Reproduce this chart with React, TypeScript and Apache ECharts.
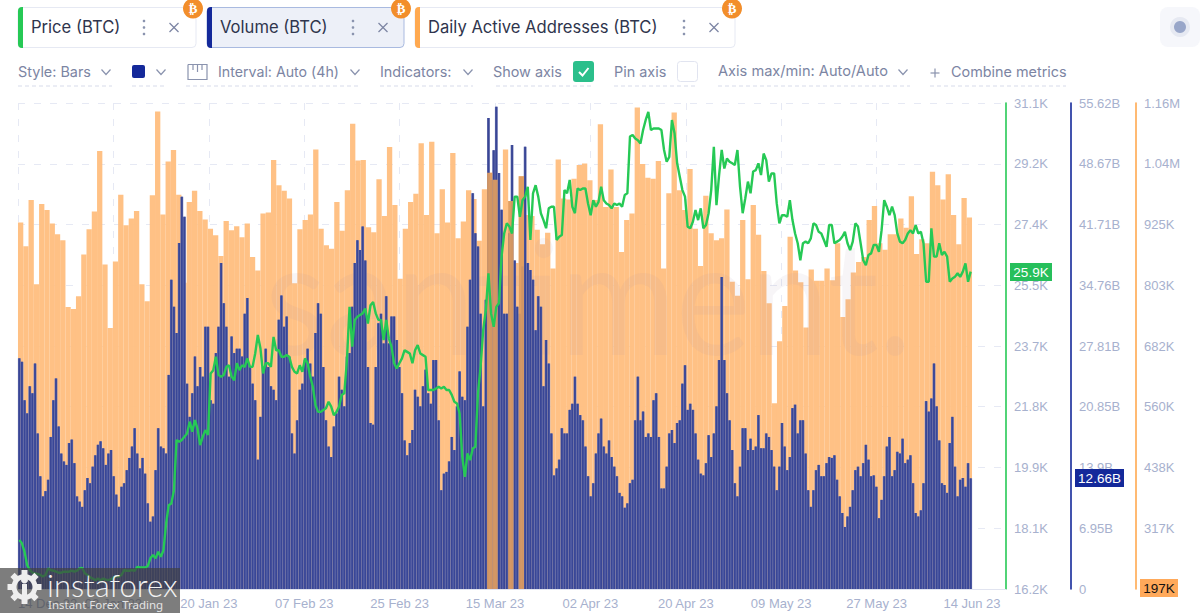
import React, { useEffect, useRef } from "react";
import * as echarts from "echarts";

const FONT = "Inter, 'Noto Sans', sans-serif";
const AXIS_FONT = "'Liberation Sans', Arial, sans-serif";

const xTickLabels = ["14 Dec 22","02 Jan 23","20 Jan 23","07 Feb 23","25 Feb 23","15 Mar 23","02 Apr 23","20 Apr 23","09 May 23","27 May 23","14 Jun 23"];
const priceTickLabels = ["16.2K","18.1K","19.9K","21.8K","23.7K","25.5K","27.4K","29.2K","31.1K"];
const volumeTickLabels = ["0","6.95B","13.9B","20.85B","27.81B","34.76B","41.71B","48.67B","55.62B"];
const addressTickLabels = ["197K","317K","438K","560K","682K","803K","925K","1.04M","1.16M"];

// Daily active addresses, thousands, one per day
const addresses = [
923,876,968,801,960,948,921,900,888,756,752,777,860,910,945,1065,840,714,846,978,918,931,946,801,767,977,1143,939,1044,1067,978,804,964,986,946,929,911,898,857,926,908,916,894,921,855,828,941,943,1047,997,986,971,803,910,928,939,1068,911,878,871,964,
907,987,1119,1046,1047,914,904,1009,936,1073,958,812,911,964,980,1080,938,1083,902,989,923,1061,892,925,987,970,887,989,1022,1008,888,1068,966,843,1015,938,936,909,880,903,832,1048,971,969,1010,1037,1040,1007,968,1118,954,1028,954,865,928,941,1151,1039,1012,1010,1045,
832,981,1141,987,948,1029,911,837,976,902,888,892,949,806,778,928,811,958,899,827,763,565,688,758,895,828,805,715,830,808,808,832,809,882,736,771,824,845,855,928,956,882,869,900,900,931,913,975,861,890,882,1024,997,969,1019,938,880,972,933,
];

// Volume, billions, one per 12 hours
const volume = [
26.4,26.0,21.6,20.1,23.2,22.4,25.8,17.8,12.9,10.6,11.2,12.5,17.4,21.6,24.1,18.6,15.5,14.6,14.2,16.7,17.1,14.4,10.6,10.0,9.4,11.3,12.7,12.1,14.0,15.3,16.5,16.9,16.1,14.2,15.5,15.9,12.9,10.8,9.4,11.7,12.1,13.6,15.0,16.3,18.4,15.5,13.8,15.0,13.2,9.8,7.7,8.3,13.6,18.4,16.3,16.1,15.5,24.5,35.4,32.3,29.3,39.6,44.9,42.6,23.5,19.7,22.4,26.6,23.2,25.4,24.3,30.0,30.0,21.6,21.2,27.0,30.0,37.3,32.7,30.0,24.3,28.9,27.0,27.5,27.5,26.6,31.5,33.3,25.4,23.5,21.6,14.8,19.7,25.4,27.5,25.4,23.2,22.8,21.6,30.8,33.6,30.0,31.2,26.6,17.8,15.5,19.3,22.8,23.5,26.2,27.5,25.8,24.3,29.3,32.7,31.5,25.4,19.3,16.3,15.1,18.6,20.1,24.3,
22.8,20.9,26.6,27.0,32.3,37.3,39.9,38.8,41.5,37.6,25.4,19.0,18.8,25.4,30.4,31.5,28.1,33.5,28.1,31.2,31.2,28.5,25.4,22.4,17.0,15.3,16.7,18.2,22.8,22.0,20.9,23.2,25.1,22.4,21.2,26.2,26.2,19.3,11.3,13.2,13.4,14.6,17.4,15.9,20.9,24.9,22.0,21.6,30.0,35.4,45.3,40.7,39.2,31.5,20.9,33.1,53.9,46.8,50.2,55.2,47.6,43.4,31.5,31.5,40.7,50.8,37.6,32.3,31.5,36.9,50.6,37.3,36.5,35.4,29.6,33.5,32.3,23.2,28.5,25.8,17.8,13.0,13.8,14.8,18.4,17.8,17.8,20.5,21.2,24.3,21.2,19.9,19.3,16.3,12.9,10.6,12.1,15.5,17.8,19.5,16.3,15.5,17.0,15.1,14.0,12.9,11.0,10.6,9.3,9.8,12.1,12.5,19.3,24.3,19.3,20.3,17.4,17.8,17.4,21.6,22.4,17.4,
11.5,11.5,14.0,17.8,18.2,16.7,19.0,19.3,23.5,25.6,20.5,21.2,20.5,17.8,14.8,13.2,13.0,14.4,17.6,15.1,17.8,20.9,26.2,35.7,26.2,22.4,19.3,15.9,12.1,10.6,14.0,18.4,18.4,15.9,17.2,15.9,16.3,19.9,16.1,16.1,17.8,17.4,15.9,14.0,11.3,14.0,19.0,16.3,13.6,15.1,20.7,21.1,17.8,19.3,19.3,15.5,11.3,9.4,11.3,13.6,14.2,12.9,12.9,14.4,15.1,15.0,15.3,12.5,10.6,8.7,7.1,8.3,9.4,11.3,13.6,14.0,12.9,14.4,16.5,14.8,12.9,13.0,11.7,8.1,10.2,12.9,16.3,17.4,12.9,13.6,15.7,15.5,17.2,14.4,14.8,15.3,12.1,8.7,8.3,9.0,12.1,21.5,20.3,21.8,25.8,20.9,17.0,12.1,11.9,11.0,16.7,19.7,14.0,10.6,12.5,12.7,11.7,14.4,12.66,
];

// Price, thousands, one per 12 hours
const price = [
17.7,17.6,17.34,16.93,16.78,16.7,16.68,16.66,16.63,16.58,16.63,16.83,16.78,16.76,16.73,16.7,16.7,16.73,16.73,16.73,16.76,16.73,16.76,16.83,16.85,16.68,16.63,16.56,16.52,16.47,16.52,16.47,16.52,16.49,16.47,16.5,16.56,16.58,16.58,16.63,16.78,16.76,16.76,16.78,16.76,16.88,16.86,16.86,16.86,16.9,17.14,17.24,17.14,17.34,17.19,17.39,18.2,18.77,18.82,19.23,20.77,20.71,20.77,20.87,20.97,21.33,21.02,21.38,21.12,20.61,20.87,21.07,20.92,22.81,22.91,23.32,22.76,22.71,22.76,23.01,23.06,22.71,22.6,23.12,22.91,23.06,23.01,23.27,23.01,23.01,23.42,23.99,23.58,22.81,23.12,23.12,23.01,23.93,23.52,23.52,23.32,23.32,23.37,23.32,23.01,22.86,22.81,23.06,22.86,23.27,23.12,22.71,22.4,21.84,21.63,21.63,21.69,21.74,21.94,21.79,21.53,
21.63,21.79,22.15,22.2,23.22,24.85,23.63,24.45,24.55,24.6,24.65,24.8,24.34,24.9,25.0,24.65,24.45,24.45,23.83,24.45,23.88,23.63,23.12,22.96,23.12,23.27,23.52,23.47,23.42,23.12,23.52,23.68,23.42,23.37,23.32,22.3,22.3,22.3,22.35,22.4,22.35,22.4,22.3,22.3,22.15,21.94,21.89,21.58,20.26,19.64,20.36,20.15,20.51,20.56,22.2,23.01,24.14,24.75,25.88,24.65,24.24,24.85,24.96,26.39,27.1,27.41,27.31,27.1,28.23,28.23,27.61,28.12,28.23,28.53,26.9,28.33,28.58,28.23,27.72,27.51,27.26,27.87,27.92,27.92,26.9,27.0,27.05,28.43,28.33,28.74,27.92,27.72,28.48,28.43,28.48,28.48,28.02,27.66,28.12,27.92,28.07,28.53,28.12,28.02,27.97,27.87,28.02,27.97,28.02,27.92,28.28,28.33,30.07,30.12,30.01,29.96,29.86,30.27,30.58,30.83,30.27,30.32,
30.32,30.32,30.27,29.66,29.3,29.45,30.58,30.17,29.25,28.84,28.43,28.23,27.31,27.26,27.46,27.82,27.51,27.87,27.26,27.36,27.72,28.43,29.76,27.97,28.89,29.66,29.09,29.4,29.3,29.25,29.2,29.66,28.53,27.72,28.18,28.69,28.33,29.0,29.04,29.25,28.89,29.55,29.35,28.69,28.94,28.94,28.02,27.41,27.66,27.66,27.61,28.12,27.51,27.1,26.8,26.28,26.8,26.85,26.8,26.95,27.41,27.36,27.15,27.1,26.9,26.69,27.36,27.36,26.8,26.85,26.9,27.0,27.15,26.8,26.59,26.85,27.41,27.31,26.8,26.28,26.13,26.44,26.49,26.75,26.75,26.54,27.2,28.12,27.92,27.66,27.92,27.66,27.1,26.85,26.8,26.9,27.1,27.2,27.1,27.36,27.1,27.15,26.8,25.62,25.62,27.26,26.39,26.39,26.8,26.44,26.54,26.39,25.62,25.72,25.77,25.88,25.77,25.93,26.18,25.62,25.93,
];

// Days on which the address bar is drawn in front of the volume bars
const frontDays = [89, 90, 93, 95];

const DAYS = addresses.length;
const DAYS_SHOWN = 187.45;
const TICK_DAYS = 18.1;
const PRICE_MIN = 16.2, PRICE_MAX = 31.1;
const VOL_MIN = 0, VOL_MAX = 55.62;
const ADDR_MIN = 197, ADDR_MAX = 1160;

const GRID = { left: 18, right: 194, top: 103, bottom: 24 };
const ORANGE = "#FFA950", GREEN = "#26C955", NAVY = "#14299A";
const LABEL = "#A7B1CE", MUTED = "#7C85A3", INK = "#2F354D";

const steps = (min: number, max: number) => [0,1,2,3,4,5,6,7,8].map((i) => min + (i * (max - min)) / 8);

const text = (x: number, y: number, t: string, fontSize: number, fill: string, extra: any = {}) => ({
  type: "text", x, y, z: 20,
  style: { text: t, fontSize, fill, fontFamily: FONT, textVerticalAlign: "middle", ...extra },
});
const poly = (pts: number[][], stroke: string, lineWidth = 1.2) => ({
  type: "polyline", z: 20, shape: { points: pts }, style: { stroke, fill: "none", lineWidth },
});
const chevron = (cx: number, cy: number) => poly([[cx - 4.5, cy - 2.5], [cx, cy + 2.5], [cx + 4.5, cy - 2.5]], "#8A93AE");
const dots = (cx: number, cy: number) => [-6.5, 0, 6.5].map((d) => ({
  type: "circle", z: 20, shape: { cx, cy: cy + d, r: 1.3 }, style: { fill: "#8A93AE" },
}));
const cross = (cx: number, cy: number) => [
  poly([[cx - 4.5, cy - 4.5], [cx + 4.5, cy + 4.5]], "#7C85A3"),
  poly([[cx - 4.5, cy + 4.5], [cx + 4.5, cy - 4.5]], "#7C85A3"),
];
const badge = (cx: number, cy: number) => [
  { type: "circle", z: 21, shape: { cx, cy, r: 10 }, style: { fill: "#F28E2B" } },
  { type: "text", z: 22, x: cx, y: cy, style: { text: "₿", fill: "#fff", fontSize: 13, fontWeight: "bold", fontFamily: "'DejaVu Sans'", textAlign: "center", textVerticalAlign: "middle" } },
];
const chip = (x0: number, x1: number, label: string, color: string, dotX: number, crossX: number, active = false) => [
  { type: "rect", z: 19, shape: { x: x0, y: 7.5, width: x1 - x0, height: 40, r: 4 },
    style: { fill: active ? "#EDF0F8" : "#fff", stroke: active ? "#A9BAE0" : "#E6E9F3", lineWidth: 1 } },
  { type: "rect", z: 19, shape: { x: x0, y: 7, width: 5, height: 41, r: [4, 0, 0, 4] }, style: { fill: color } },
  text(x0 + 13, 27, label, 16.6, INK),
  ...dots(dotX, 27.5),
  ...cross(crossX, 27.5),
  ...badge(x1 - 3, 8.5),
];
const underline = (x0: number, x1: number) => ({
  type: "line", z: 20, shape: { x1: x0, y1: 86, x2: x1, y2: 86 },
  style: { stroke: "#D7DBEA", lineWidth: 1, lineDash: [4, 3] },
});
const valueTag = (x: number, y: number, w: number, label: string, fill: string, color: string) => [
  { type: "rect", z: 24, shape: { x, y, width: w, height: 18 }, style: { fill } },
  { type: "text", z: 25, x: x + w / 2, y: y + 9.5, style: { text: label, fill: color, fontSize: 13.5, fontFamily: AXIS_FONT, textAlign: "center", textVerticalAlign: "middle" } },
];

const gearTeeth = [0, 45, 90, 135, 180, 225, 270, 315].map((deg) => ({
  type: "rect", z: 31, x: 24.5, y: 587, rotation: (deg * Math.PI) / 180,
  shape: { x: -3, y: -17, width: 6, height: 7 }, style: { fill: "#eee" },
}));

const graphics: any[] = [
  ...chip(18, 196, "Price (BTC)", GREEN, 144, 174),
  ...chip(207, 404, "Volume (BTC)", NAVY, 353, 383, true),
  ...chip(415, 735, "Daily Active Addresses (BTC)", ORANGE, 684, 714),
  { type: "rect", z: 20, shape: { x: 1160, y: 7, width: 40, height: 40, r: 8 }, style: { fill: "#F6F7FB" } },
  { type: "circle", z: 21, shape: { cx: 1180, cy: 27, r: 10 }, style: { fill: "#E6E9F2" } },
  { type: "circle", z: 22, shape: { cx: 1180, cy: 27, r: 6 }, style: { fill: "#98A6C9" } },

  text(18, 71, "Style: Bars", 14.4, MUTED),
  chevron(106, 72),
  { type: "rect", z: 20, shape: { x: 132, y: 65, width: 13, height: 13, r: 2 }, style: { fill: NAVY } },
  chevron(161, 72),
  poly([[188, 64.5], [207, 64.5], [207, 79.5], [188, 79.5], [188, 64.5]], "#8A93AE"),
  poly([[193, 65], [193, 70]], "#8A93AE"), poly([[197.5, 65], [197.5, 72]], "#8A93AE"), poly([[202, 65], [202, 70]], "#8A93AE"),
  text(218, 71, "Interval: Auto (4h)", 14.2, MUTED),
  chevron(355, 72),
  text(380, 71, "Indicators:", 14.4, MUTED),
  chevron(468, 72),
  text(493, 71, "Show axis", 14.4, MUTED),
  { type: "rect", z: 20, shape: { x: 573, y: 61, width: 21, height: 21, r: 3 }, style: { fill: "#2BBF8B" } },
  poly([[579, 72], [582.5, 75.5], [588.5, 68]], "#fff", 2),
  text(614, 71, "Pin axis", 14.4, MUTED),
  { type: "rect", z: 20, shape: { x: 677.5, y: 61.5, width: 20, height: 20, r: 3 }, style: { fill: "#fff", stroke: "#E1E4F0" } },
  text(718, 71, "Axis max/min: Auto/Auto", 14.6, MUTED),
  chevron(903, 72),
  poly([[930.5, 73], [939.5, 73]], "#8A93AE"), poly([[935, 68.5], [935, 77.5]], "#8A93AE"),
  text(951, 71, "Combine metrics", 14.4, MUTED),
  underline(18, 112), underline(132, 166), underline(186, 360), underline(380, 473),
  underline(496, 594), underline(614, 696), underline(718, 910), underline(930, 1066),

  // faint site wordmark, between the address bars and the volume bars
  { type: "text", z: 2, x: 265, y: 373, scaleX: 0.88, style: { text: "santiment.", fontSize: 160, fontFamily: "Lato, 'Noto Sans'", fontWeight: "normal", fill: "rgba(165,145,170,0.09)", textVerticalAlign: "bottom", textBaseline: "alphabetic" } },

  ...valueTag(1010, 263, 42, "25.9K", "#26BF5B", "#fff"),
  ...valueTag(1075, 469, 49, "12.66B", NAVY, "#fff"),
  ...valueTag(1140, 579, 38, "197K", "#FFA95A", "#111"),

  // publisher's stamp over the bottom-left corner
  { type: "rect", z: 30, shape: { x: 0, y: 568, width: 180, height: 45 }, style: { fill: "rgba(64,64,64,0.68)" } },
  ...gearTeeth,
  { type: "ring", z: 31, shape: { cx: 24.5, cy: 587, r: 13, r0: 8 }, style: { fill: "#eee" } },
  { type: "circle", z: 31, shape: { cx: 24.5, cy: 580, r: 3.5 }, style: { fill: "#eee" } },
  { type: "rect", z: 31, shape: { x: 22, y: 584, width: 5, height: 14 }, style: { fill: "#eee" } },
  { type: "text", z: 31, x: 47, y: 585, style: { text: "instaforex", fontSize: 31, fontFamily: "Lato, 'Noto Sans'", fontWeight: 300, fill: "#f2f2f2", textVerticalAlign: "middle" } },
  { type: "text", z: 31, x: 48, y: 604, style: { text: "Instant Forex Trading", fontSize: 11.5, fontFamily: "'Noto Sans', sans-serif", fill: "#e4e4e4", textVerticalAlign: "middle" } },
];

const xAxisBase = { type: "value", min: 0, max: DAYS_SHOWN, gridIndex: 0 };

const rightAxis = (min: number, max: number, offset: number, color: string, labels: string[], split: boolean) => {
  const ticks = steps(min, max);
  return {
    type: "value", position: "right", min, max, offset,
    axisLine: { show: true, onZero: false, lineStyle: { color, width: 1.6 } },
    axisTick: { show: false, customValues: ticks },
    axisLabel: {
      customValues: ticks, color: LABEL, fontSize: 13, fontFamily: AXIS_FONT, margin: 8, showMinLabel: true, showMaxLabel: true,
      formatter: (v: number) => labels[ticks.findIndex((t) => Math.abs(t - v) < 1e-6)] ?? "",
    },
    splitLine: split ? { show: true, lineStyle: { color: "#E6E9F4", type: [7, 9], width: 1 } } : { show: false },
  };
};

export default function App() {
  const ref = useRef<HTMLDivElement>(null);
  useEffect(() => {
    const chart = echarts.init(ref.current!, undefined, { renderer: "svg" });
    const labelDays = xTickLabels.map((_, i) => i * TICK_DAYS);
    const halfDay = (i: number, n: number) => ((i + 0.5) * DAYS) / n;
    const volumeData = volume.map((v, i) => [halfDay(i, volume.length), v]);
    chart.setOption({
      animation: false,
      backgroundColor: "#fff",
      grid: { ...GRID, containLabel: false },
      tooltip: { show: false },
      xAxis: [
        {
          ...xAxisBase,
          axisLine: { show: true, onZero: false, lineStyle: { color: "#E1E4F0" } },
          axisTick: { show: false, customValues: labelDays.slice(0, -1) },
          axisLabel: {
            customValues: labelDays, color: LABEL, fontSize: 13, fontFamily: AXIS_FONT, margin: 8,
            alignMinLabel: "left", showMinLabel: true,
            formatter: (v: number) => xTickLabels[Math.round(v / TICK_DAYS)] ?? "",
          },
          splitLine: { show: true, lineStyle: { color: "#E6E9F4", type: [7, 9], width: 1 } },
        },
        { ...xAxisBase, show: false },
        { ...xAxisBase, show: false },
        { ...xAxisBase, show: false },
      ],
      yAxis: [
        rightAxis(PRICE_MIN, PRICE_MAX, 0, GREEN, priceTickLabels, true),
        rightAxis(VOL_MIN, VOL_MAX, 65, NAVY, volumeTickLabels, false),
        rightAxis(ADDR_MIN, ADDR_MAX, 130, ORANGE, addressTickLabels, false),
      ],
      series: [
        {
          name: "Daily Active Addresses (BTC)", type: "bar", xAxisIndex: 0, yAxisIndex: 2, z: 1,
          barWidth: 5.3, itemStyle: { color: "#FFBE80", opacity: 0.96 },
          data: addresses.map((v, i) => [i + 0.5, v]),
        },
        {
          name: "Volume gaps", type: "bar", xAxisIndex: 3, yAxisIndex: 1, z: 3,
          barWidth: 2.8, itemStyle: { color: "#6973B0" },
          data: volumeData,
        },
        {
          name: "Volume (BTC)", type: "bar", xAxisIndex: 1, yAxisIndex: 1, z: 3,
          barWidth: 1.8, itemStyle: { color: "#394696" },
          data: volumeData,
        },
        {
          name: "Daily Active Addresses front", type: "bar", xAxisIndex: 2, yAxisIndex: 2, z: 4,
          barWidth: 5.3, itemStyle: { color: "#DE9C60", opacity: 0.92 },
          data: frontDays.map((d) => [d + 0.5, addresses[d]]),
        },
        {
          name: "Price (BTC)", type: "line", xAxisIndex: 0, yAxisIndex: 0, z: 5,
          showSymbol: false, symbol: "none", lineStyle: { color: GREEN, width: 2.4 },
          data: price.map((v, i) => [halfDay(i, price.length), v]),
        },
      ],
      graphic: { elements: graphics },
    });
    return () => chart.dispose();
  }, []);
  return <div ref={ref} style={{ position: "absolute", left: 0, top: 0, width: 1200, height: 613 }} />;
}
